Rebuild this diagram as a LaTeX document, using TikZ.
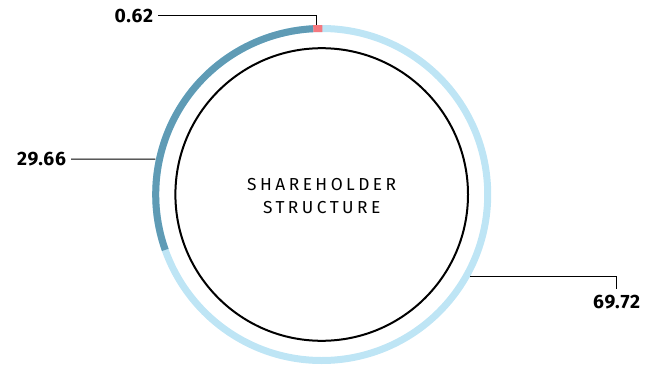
\documentclass[tikz,border=0pt]{standalone}
\usepackage{fontspec}
\setmainfont{Fira Sans}
\newfontfamily\titlefont[LetterSpace=20]{Fira Sans}
\newfontfamily\numfont[LetterSpace=4]{Fira Sans}
\definecolor{ringdark}{HTML}{5F9BB5}
\definecolor{ringlight}{HTML}{BEE5F5}
\definecolor{ringred}{HTML}{F5787F}
\begin{document}
\begin{tikzpicture}[x=0.75pt,y=0.75pt,
        ring/.style={line width=5.25pt},
        lead/.style={line width=0.75pt},
        num/.style={font=\numfont\fontsize{14.5}{16}\selectfont\bfseries, inner xsep=3.5pt, inner ysep=0pt}]
        \useasboundingbox (0,0) rectangle (656,365);
        \coordinate (c) at (321.7,170.5);
        % outer ring
        \draw [ring, ringlight] (c) circle [radius=166];
        \draw [ring, ringdark] ([shift={(92.9:166)}]c) arc [start angle=92.9, end angle=199.5, radius=166];
        \draw [ring, ringred] ([shift={(89.8:166)}]c) arc [start angle=89.8, end angle=92.9, radius=166];
        % inner circle
        \draw [line width=1.5pt] (c) circle [radius=146.3];
        \node (title) at (c) [align=center, yshift=-1pt, font=\titlefont\fontsize{13}{17.6}\selectfont] {SHAREHOLDER\\STRUCTURE};
        % leaders
        \coordinate (p062) at ([shift={(91.6:169.5)}]c);
        \coordinate (p2966) at ([shift={(168:170)}]c);
        \coordinate (p6972) at ([shift={(-29:170)}]c);
        \node (v062) [num, anchor=east] at (158,349.3) {0.62};
        \node (v2966) [num, anchor=east] at (71,206) {29.66};
        \node (v6972) [num, anchor=north, inner ysep=0pt] at (616.7,70) {69.72};
        \draw [lead] (v062.east) -| (p062);
        \draw [lead] (v2966.east) -- (p2966);
        \draw [lead, shorten >=4.5pt] (p6972) -| (v6972.north);
\end{tikzpicture}
\end{document}
